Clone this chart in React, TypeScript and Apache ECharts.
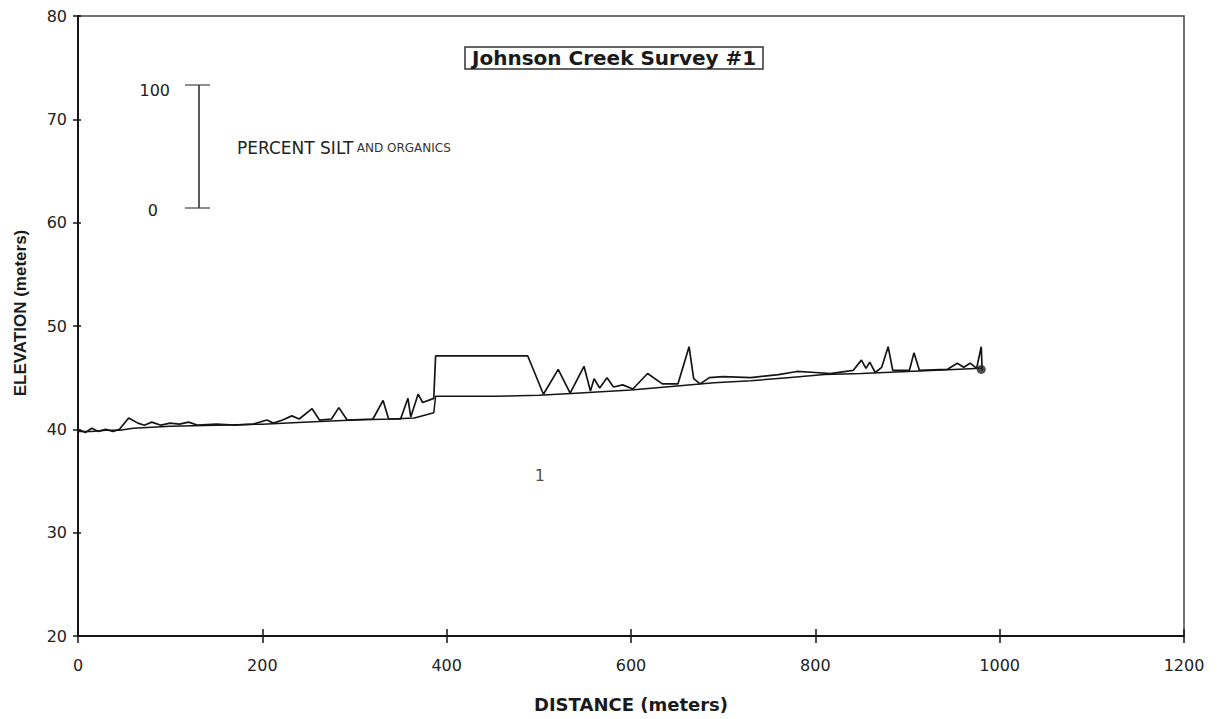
import React, { useEffect, useRef } from "react";
import * as echarts from "echarts";

const xTicks = [0, 200, 400, 600, 800, 1000, 1200];
const yTicks = [20, 30, 40, 50, 60, 70, 80];

// Bed elevation profile (lower line)
const bedProfile: [number, number][] = [
  [0, 39.8], [15, 39.8], [30, 39.9], [45, 39.9], [60, 40.1], [100, 40.3], [150, 40.4],
  [200, 40.5], [250, 40.7], [300, 40.9], [340, 41.0], [365, 41.1], [386, 41.6], [388, 43.2],
  [450, 43.2], [500, 43.3], [540, 43.5], [600, 43.8], [650, 44.2], [690, 44.5], [730, 44.7],
  [770, 45.0], [810, 45.3], [850, 45.4], [900, 45.6], [950, 45.8], [980, 45.9],
];

// Percent silt and organics plotted on top of the profile (spiky line)
const siltProfile: [number, number][] = [
  [0, 40.0], [8, 39.7], [15, 40.1], [22, 39.8], [30, 40.0], [38, 39.8], [45, 40.0], [55, 41.1],
  [65, 40.6], [72, 40.4], [80, 40.7], [90, 40.4], [100, 40.6], [110, 40.5], [120, 40.7],
  [130, 40.4], [150, 40.5], [170, 40.4], [190, 40.5], [205, 40.9], [212, 40.6], [222, 40.9],
  [232, 41.3], [240, 41.0], [254, 42.0], [262, 40.9], [275, 41.0], [283, 42.1], [292, 40.9],
  [320, 41.0], [331, 42.8], [337, 41.0], [350, 41.0], [358, 43.0], [361, 41.2], [369, 43.4],
  [374, 42.6], [386, 43.0], [388, 47.1], [488, 47.1], [505, 43.4], [521, 45.8], [534, 43.5],
  [549, 46.1], [556, 43.7], [560, 44.9], [566, 44.0], [574, 45.0], [581, 44.1], [591, 44.3],
  [602, 43.9], [618, 45.4], [634, 44.4], [651, 44.4], [663, 48.0], [668, 44.9], [675, 44.4],
  [685, 45.0], [700, 45.1], [730, 45.0], [760, 45.3], [780, 45.6], [800, 45.5], [816, 45.4],
  [841, 45.7], [850, 46.7], [855, 45.9], [859, 46.5], [865, 45.5], [872, 46.0], [879, 48.0],
  [884, 45.7], [902, 45.7], [907, 47.4], [913, 45.7], [943, 45.8], [954, 46.4], [961, 46.0],
  [968, 46.4], [975, 45.9], [980, 48.0], [981, 45.7],
];

const endPoint: [number, number][] = [[980, 45.8]];
const sampleLabel: [number, number][] = [[501, 35.5]];

const title = "Johnson Creek Survey #1";
const xTitle = "DISTANCE (meters)";
const yTitle = "ELEVATION (meters)";

export default function App() {
  const ref = useRef<HTMLDivElement>(null);
  useEffect(() => {
    if (!ref.current) return;
    const chart = echarts.init(ref.current, undefined, { renderer: "svg" });
    const ink = "#151515";
    const tickFont = { fontFamily: "DejaVu Sans", fontSize: 16, color: "#222" };
    const xBase = {
      type: "value" as const,
      min: 0,
      max: 1200,
      interval: 200,
    };
    const yBase = {
      type: "value" as const,
      min: 20,
      max: 80,
      interval: 10,
    };
    chart.setOption({
      animation: false,
      backgroundColor: "#ffffff",
      title: {
        text: title,
        left: 465,
        top: 47,
        padding: [1, 7, 1, 7],
        borderColor: "#333",
        borderWidth: 1.5,
        textStyle: { fontFamily: "DejaVu Sans", fontWeight: "bold", fontSize: 20, color: "#1a1a1a", lineHeight: 20 },
      },
      grid: {
        left: 78,
        right: 42,
        top: 16,
        bottom: 83,
        show: true,
        borderColor: "#444",
        borderWidth: 1.5,
        backgroundColor: "transparent",
      },
      xAxis: [
        {
          ...xBase,
          name: xTitle,
          nameLocation: "middle",
          nameGap: 59,
          nameTextStyle: { fontFamily: "DejaVu Sans", fontWeight: "bold", fontSize: 18, color: "#1a1a1a" },
          axisLine: { show: true, lineStyle: { color: ink, width: 2 } },
          axisTick: { show: true, length: 7, lineStyle: { color: ink, width: 1.5 } },
          axisLabel: { ...tickFont, margin: 21, formatter: (v: number) => (xTicks.includes(v) ? String(v) : "") },
          splitLine: { show: false },
        },
        {
          ...xBase,
          position: "bottom",
          axisLine: { show: false },
          axisTick: { show: true, inside: true, length: 7, lineStyle: { color: ink, width: 1.5 } },
          axisLabel: { show: false },
          splitLine: { show: false },
        },
      ],
      yAxis: [
        {
          ...yBase,
          axisLine: { show: true, lineStyle: { color: ink, width: 2 } },
          axisTick: { show: true, length: 5, lineStyle: { color: ink, width: 1.5 } },
          axisLabel: { ...tickFont, margin: 11, formatter: (v: number) => (yTicks.includes(v) ? String(v) : "") },
          splitLine: { show: false },
        },
        {
          ...yBase,
          position: "left",
          axisLine: { show: false },
          axisTick: { show: true, inside: true, length: 3, lineStyle: { color: ink, width: 1.5 } },
          axisLabel: { show: false },
          splitLine: { show: false },
        },
      ],
      graphic: [
        {
          type: "text",
          x: 20,
          y: 313,
          rotation: Math.PI / 2,
          style: {
            text: yTitle,
            fontFamily: "Liberation Sans",
            fontWeight: "bold",
            fontSize: 17,
            fill: "#1a1a1a",
            align: "center",
            verticalAlign: "middle",
          },
        },
        // Scale bar for percent silt
        { type: "line", shape: { x1: 199, y1: 85, x2: 199, y2: 208 }, style: { stroke: "#222", lineWidth: 1.5 } },
        { type: "line", shape: { x1: 185, y1: 85, x2: 210, y2: 85 }, style: { stroke: "#444", lineWidth: 1.2 } },
        { type: "line", shape: { x1: 185, y1: 208, x2: 210, y2: 208 }, style: { stroke: "#444", lineWidth: 1.2 } },
        {
          type: "text",
          x: 170,
          y: 90,
          style: { text: "100", fontFamily: "DejaVu Sans", fontSize: 16, fill: "#222", align: "right", verticalAlign: "middle" },
        },
        {
          type: "text",
          x: 158,
          y: 210,
          style: { text: "0", fontFamily: "DejaVu Sans", fontSize: 16, fill: "#222", align: "right", verticalAlign: "middle" },
        },
        {
          type: "text",
          x: 237,
          y: 148,
          style: {
            text: "{a|PERCENT SILT} {b|AND ORGANICS}",
            rich: {
              a: { fontFamily: "DejaVu Sans", fontSize: 17, fill: "#222" },
              b: { fontFamily: "DejaVu Sans", fontSize: 12, fill: "#333" },
            },
            fill: "#222",
            verticalAlign: "middle",
          },
        },
      ],
      series: [
        {
          type: "line",
          data: bedProfile,
          showSymbol: false,
          symbol: "none",
          lineStyle: { color: ink, width: 1.5 },
          z: 2,
        },
        {
          type: "line",
          data: siltProfile,
          showSymbol: false,
          symbol: "none",
          lineStyle: { color: ink, width: 1.7 },
          z: 3,
        },
        {
          type: "scatter",
          data: endPoint,
          symbol: "circle",
          symbolSize: 9,
          itemStyle: { color: "#222" },
          z: 4,
        },
        {
          type: "scatter",
          data: sampleLabel,
          symbolSize: 0,
          label: {
            show: true,
            position: "inside",
            formatter: "1",
            fontFamily: "DejaVu Sans",
            fontSize: 16,
            color: "#222",
          },
          z: 4,
        },
      ],
    });
    return () => chart.dispose();
  }, []);
  return <div ref={ref} style={{ position: "fixed", left: 0, top: 0, width: 1226, height: 719 }} />;
}
